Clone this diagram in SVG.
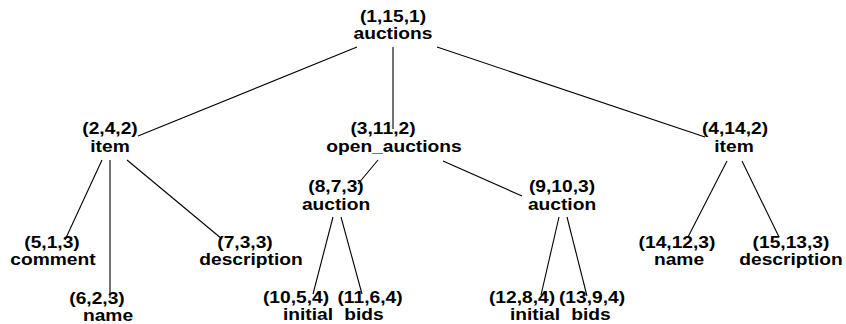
<svg xmlns="http://www.w3.org/2000/svg" width="846" height="324" viewBox="0 0 846 324">
<style>
  .t { font-family: "Liberation Sans", Arial, Helvetica, sans-serif; font-weight: bold; font-size: 16px; text-anchor: middle; fill: #000; }
  .e { stroke: #000; stroke-width: 1.1; fill: none; }
</style>
<rect width="846" height="324" fill="#fff"/>
<g id="connectors">
  <line class="e" x1="357" y1="47" x2="138" y2="136"/>
  <line class="e" x1="393" y1="47" x2="393" y2="129"/>
  <line class="e" x1="437" y1="47" x2="705" y2="137"/>
  <line class="e" x1="102" y1="160" x2="65" y2="240"/>
  <line class="e" x1="110" y1="160" x2="110" y2="298"/>
  <line class="e" x1="127" y1="160" x2="222" y2="239"/>
  <line class="e" x1="378" y1="160" x2="358" y2="184"/>
  <line class="e" x1="443" y1="161" x2="522" y2="196"/>
  <line class="e" x1="333" y1="217" x2="313" y2="294"/>
  <line class="e" x1="341" y1="217" x2="362" y2="294"/>
  <line class="e" x1="559" y1="217" x2="541" y2="295"/>
  <line class="e" x1="567" y1="217" x2="587" y2="296"/>
  <line class="e" x1="727" y1="161" x2="688" y2="237"/>
  <line class="e" x1="742" y1="161" x2="779" y2="237"/>
</g>
<g id="n1"><text class="t" transform="translate(393,22) scale(1.2,1)">(1,15,1)</text><text class="t" transform="translate(393,39) scale(1.2,1)">auctions</text></g>
<g id="n2"><text class="t" transform="translate(110,134) scale(1.2,1)">(2,4,2)</text><text class="t" transform="translate(110,152) scale(1.2,1)">item</text></g>
<g id="n3"><text class="t" transform="translate(383,134) scale(1.2,1)">(3,11,2)</text><text class="t" transform="translate(394,152) scale(1.2,1)">open_auctions</text></g>
<g id="n4"><text class="t" transform="translate(735,134) scale(1.2,1)">(4,14,2)</text><text class="t" transform="translate(734,152) scale(1.2,1)">item</text></g>
<g id="n5"><text class="t" transform="translate(52,248) scale(1.2,1)">(5,1,3)</text><text class="t" transform="translate(53,265) scale(1.2,1)">comment</text></g>
<g id="n6"><text class="t" transform="translate(97,304) scale(1.2,1)">(6,2,3)</text><text class="t" transform="translate(108,321) scale(1.2,1)">name</text></g>
<g id="n7"><text class="t" transform="translate(245,248) scale(1.2,1)">(7,3,3)</text><text class="t" transform="translate(251,265) scale(1.2,1)">description</text></g>
<g id="n8"><text class="t" transform="translate(336,192) scale(1.2,1)">(8,7,3)</text><text class="t" transform="translate(336,210) scale(1.2,1)">auction</text></g>
<g id="n9"><text class="t" transform="translate(562,192) scale(1.2,1)">(9,10,3)</text><text class="t" transform="translate(562,210) scale(1.2,1)">auction</text></g>
<g id="n10"><text class="t" transform="translate(296,303) scale(1.2,1)">(10,5,4)</text><text class="t" transform="translate(308,320) scale(1.2,1)">initial</text></g>
<g id="n11"><text class="t" transform="translate(370,303) scale(1.2,1)">(11,6,4)</text><text class="t" transform="translate(364,320) scale(1.2,1)">bids</text></g>
<g id="n12"><text class="t" transform="translate(522,303) scale(1.2,1)">(12,8,4)</text><text class="t" transform="translate(535,320) scale(1.2,1)">initial</text></g>
<g id="n13"><text class="t" transform="translate(592,303) scale(1.2,1)">(13,9,4)</text><text class="t" transform="translate(591,320) scale(1.2,1)">bids</text></g>
<g id="n14"><text class="t" transform="translate(677,248) scale(1.2,1)">(14,12,3)</text><text class="t" transform="translate(679,265) scale(1.2,1)">name</text></g>
<g id="n15"><text class="t" transform="translate(791,248) scale(1.2,1)">(15,13,3)</text><text class="t" transform="translate(791,265) scale(1.2,1)">description</text></g>
</svg>
